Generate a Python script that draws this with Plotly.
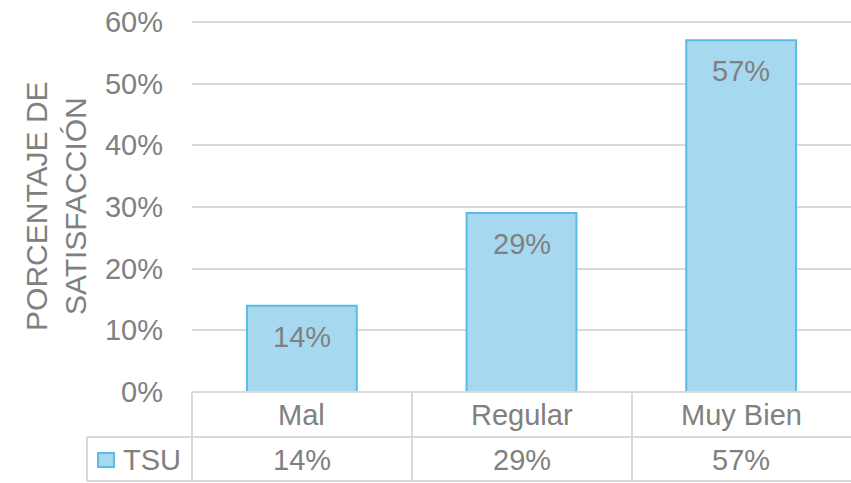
import plotly.graph_objects as go

categories = ["Mal", "Regular", "Muy Bien"]
values = [0.14, 0.29, 0.57]
series_name = "TSU"
y_ticks = [0, 0.1, 0.2, 0.3, 0.4, 0.5, 0.6]
y_tick_labels = ["0%", "10%", "20%", "30%", "40%", "50%", "60%"]
y_title = "PORCENTAJE DE<br>SATISFACCIÓN"

GRAY = "#808080"
LINE = "#d9d9d9"
FILL = "#a6d8f0"
EDGE = "#5cbbe3"
FONT = "Liberation Sans, Arial, sans-serif"

W, H = 851, 483
YMAX = 0.603
# plot area in pixels: x 192..851, 0% at y 392, 60% at y 22
L, R = 192, 0
B = H - 392
T = 392 - 370 * YMAX / 0.6
pw, ph = W - L - R, H - T - B

def py(p):  # pixel y -> paper y
    return (392 - p) / ph

def px_(p):  # pixel x -> paper x
    return (p - L) / pw

fig = go.Figure()
fig.add_trace(go.Bar(
    x=list(range(len(categories))), y=values, name=series_name,
    width=0.5, marker=dict(color=FILL, line=dict(color=EDGE, width=2)),
    showlegend=False,
))

FS = 29
annotations = []
for i, v in enumerate(values):
    annotations.append(dict(x=i, y=v, xref="x", yref="y", text=f"{round(v*100)}%",
                            showarrow=False, yanchor="middle", yshift=-31,
                            font=dict(size=FS, color=GRAY, family=FONT)))
    annotations.append(dict(x=i, y=py(415), xref="x", yref="paper", text=categories[i],
                            showarrow=False, yanchor="middle",
                            font=dict(size=FS, color=GRAY, family=FONT)))
    annotations.append(dict(x=i, y=py(460), xref="x", yref="paper", text=f"{round(v*100)}%",
                            showarrow=False, yanchor="middle",
                            font=dict(size=FS, color=GRAY, family=FONT)))
annotations.append(dict(x=px_(121), y=py(460), xref="paper", yref="paper", text=series_name,
                        showarrow=False, xanchor="left", yanchor="middle",
                        font=dict(size=FS, color=GRAY, family=FONT)))
annotations.append(dict(x=px_(56), y=py(207), xref="paper", yref="paper", text=y_title,
                        showarrow=False, textangle=-90, xanchor="center", yanchor="middle",
                        font=dict(size=30, color=GRAY, family=FONT)))

shapes = []
def hline(y, x0, x1):
    shapes.append(dict(type="line", xref="paper", yref="paper", x0=px_(x0), x1=px_(x1),
                       y0=py(y), y1=py(y), line=dict(color=LINE, width=2)))
def vline(x, y0, y1):
    shapes.append(dict(type="line", xref="paper", yref="paper", x0=px_(x), x1=px_(x),
                       y0=py(y0), y1=py(y1), line=dict(color=LINE, width=2)))

hline(392, 192, 851)
hline(437, 87, 851)
hline(481, 87, 851)
vline(192, 392, 481)
vline(412, 392, 481)
vline(632, 392, 481)
vline(87, 437, 481)
# legend key
shapes.append(dict(type="rect", xref="paper", yref="paper", x0=px_(98), x1=px_(114),
                   y0=py(467), y1=py(453), fillcolor=FILL, line=dict(color=EDGE, width=2)))

fig.update_layout(
    width=W, height=H, margin=dict(l=L, r=R, t=T, b=B, pad=0, autoexpand=False),
    paper_bgcolor="white", plot_bgcolor="white",
    xaxis=dict(range=[-0.5, 2.5], showticklabels=False, showgrid=False, zeroline=False,
               showline=False, ticks=""),
    yaxis=dict(range=[0, YMAX], tickmode="array", tickvals=y_ticks, ticktext=y_tick_labels,
               showgrid=True, gridcolor=LINE, gridwidth=2, zeroline=False, showline=False,
               ticks="", ticklabelstandoff=28, ticklabeloverflow="allow",
               automargin=False,
               tickfont=dict(size=FS, color=GRAY, family=FONT)),
    annotations=annotations, shapes=shapes, bargap=0.5,
)
fig.write_html("out.html", config={"displayModeBar": False},
               post_script="document.body.style.margin='0';document.body.style.overflow='hidden';")
